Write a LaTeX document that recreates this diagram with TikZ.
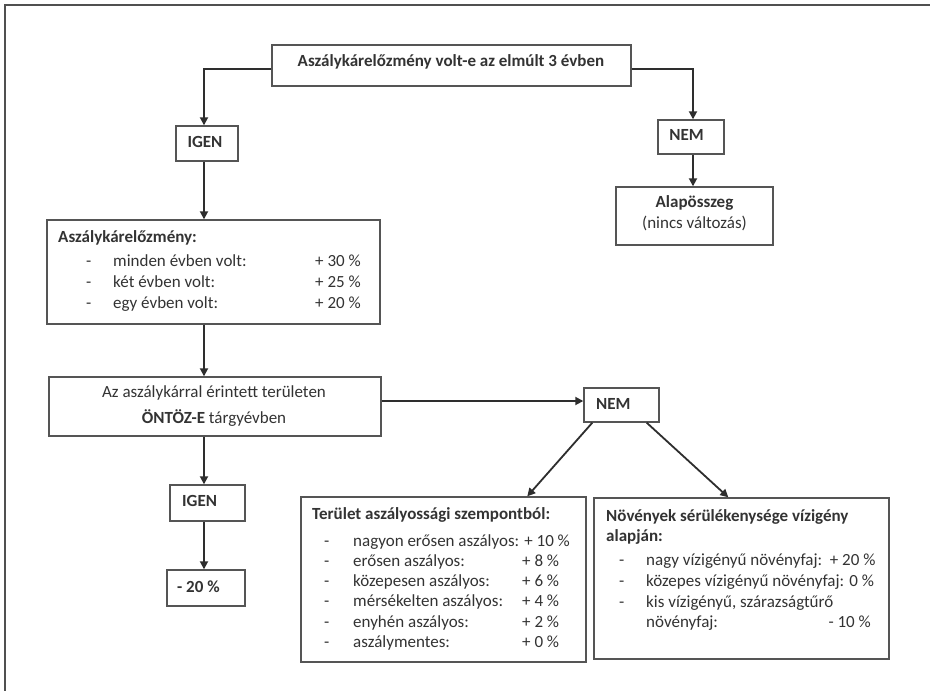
\documentclass[tikz,border=0pt]{standalone}
\usepackage{fontspec}
\setmainfont{Carlito}
\usetikzlibrary{arrows.meta,calc}
\definecolor{boxc}{HTML}{555555}
\definecolor{linec}{HTML}{2E2E2E}
\definecolor{textc}{HTML}{333333}
\definecolor{framec}{HTML}{505050}
\begin{document}
\begin{tikzpicture}[x=1pt,y=-1pt,
  box/.style={draw=boxc, line width=1.4pt, inner sep=0pt},
  arr/.style={draw=linec, line width=1.8pt, -{Triangle[length=8pt,width=8pt]}},
  txt/.style={inner sep=0pt, text=textc, font=\fontsize{17}{20.7}\selectfont, text height=12pt, text depth=4pt},
  btxt/.style={txt, font=\fontsize{17}{20.7}\selectfont\bfseries}]
\useasboundingbox (0,0) rectangle (930,691);
\fill[white] (0,0) rectangle (930,691);
\draw[framec, line width=1.4pt] (5,691) -- (5,5) -- (930,5);

% helper columns for the vertical connectors
\coordinate (trunk) at (204,0);
\coordinate (rtrunk) at (693,0);

% boxes
\node[box, minimum width=359pt, minimum height=41pt] (top) at (451.5,65.5) {};
\node[btxt] (toptxt) at (451,62) {Aszálykárelőzmény volt-e az elmúlt 3 évben};

\node[box, minimum width=62pt, minimum height=35pt] (igen1) at (207,143.5) {};
\node[btxt] (igen1txt) at (205,143) {IGEN};

\node[box, minimum width=66pt, minimum height=34pt] (nem1) at (691,137) {};
\node[btxt] (nem1txt) at (686.5,136) {NEM};

\node[box, minimum width=157pt, minimum height=58pt] (alap) at (694.5,216) {};
\node[btxt] (alaptxt1) at (694.5,203) {Alapösszeg};
\node[txt] (alaptxt2) at (694.5,224) {(nincs változás)};

\node[box, minimum width=333pt, minimum height=104pt] (hist) at (213.5,272) {};
\node[btxt, anchor=west] (histtitle) at (58,238) {Aszálykárelőzmény:};
\node[txt, anchor=west] (hd1) at (86,262) {-};
\node[txt, anchor=west] (ht1) at (113,262) {minden évben volt:};
\node[txt, anchor=west] (hv1) at (315,262) {+ 30 \%};
\node[txt, anchor=west] (hd2) at (86,283) {-};
\node[txt, anchor=west] (ht2) at (113,283) {két évben volt:};
\node[txt, anchor=west] (hv2) at (315,283) {+ 25 \%};
\node[txt, anchor=west] (hd3) at (86,304) {-};
\node[txt, anchor=west] (ht3) at (113,304) {egy évben volt:};
\node[txt, anchor=west] (hv3) at (315,304) {+ 20 \%};

\node[box, minimum width=332pt, minimum height=59pt] (ontoz) at (215,406.5) {};
\node[txt] (ontoztxt1) at (214,393) {Az aszálykárral érintett területen};
\node[txt] (ontoztxt2) at (214,419) {\textbf{ÖNTÖZ-E} tárgyévben};

\node[box, minimum width=75pt, minimum height=36pt] (igen2) at (207.5,503) {};
\node[btxt, anchor=west] (igen2txt) at (182,502) {IGEN};

\node[box, minimum width=78pt, minimum height=36pt] (minus) at (206,588) {};
\node[btxt, anchor=west] (minustxt) at (177,588) {- 20 \%};

\node[box, minimum width=75pt, minimum height=34pt] (nem2) at (621.5,405) {};
\node[btxt, anchor=west] (nem2txt) at (596,405) {NEM};

\node[box, minimum width=285pt, minimum height=165pt] (ter) at (443.5,579.5) {};
\node[btxt, anchor=west] (tertitle) at (312,515) {Terület aszályossági szempontból:};
\node[txt, anchor=west] (td1) at (324,542) {-};
\node[txt, anchor=west] (tt1) at (353,542) {nagyon erősen aszályos: + 10 \%};
\node[txt, anchor=west] (td2) at (324,562) {-};
\node[txt, anchor=west] (tt2) at (353,562) {erősen aszályos:};
\node[txt, anchor=west] (tv2) at (522,562) {+ 8 \%};
\node[txt, anchor=west] (td3) at (324,582) {-};
\node[txt, anchor=west] (tt3) at (353,582) {közepesen aszályos:};
\node[txt, anchor=west] (tv3) at (522,582) {+ 6 \%};
\node[txt, anchor=west] (td4) at (324,602) {-};
\node[txt, anchor=west] (tt4) at (353,602) {mérsékelten aszályos:};
\node[txt, anchor=west] (tv4) at (522,602) {+ 4 \%};
\node[txt, anchor=west] (td5) at (324,623) {-};
\node[txt, anchor=west] (tt5) at (353,623) {enyhén aszályos:};
\node[txt, anchor=west] (tv5) at (522,623) {+ 2 \%};
\node[txt, anchor=west] (td6) at (324,643) {-};
\node[txt, anchor=west] (tt6) at (353,643) {aszálymentes:};
\node[txt, anchor=west] (tv6) at (522,643) {+ 0 \%};

\node[box, minimum width=295pt, minimum height=161pt] (nov) at (741.5,578.5) {};
\node[btxt, anchor=west] (novtitle1) at (606,517) {Növények sérülékenysége vízigény};
\node[btxt, anchor=west] (novtitle2) at (606,537) {alapján:};
\node[txt, anchor=west] (nd1) at (619,561) {-};
\node[txt, anchor=west] (nt1) at (646,561) {nagy vízigényű növényfaj:\ \ + 20 \%};
\node[txt, anchor=west] (nd2) at (619,582) {-};
\node[txt, anchor=west] (nt2) at (646,582) {közepes vízigényű növényfaj: 0 \%};
\node[txt, anchor=west] (nd3) at (619,603) {-};
\node[txt, anchor=west] (nt3) at (646,603) {kis vízigényű, szárazságtűrő};
\node[txt, anchor=west] (nt4) at (646,623) {növényfaj:};
\node[txt, anchor=east] (nv4) at (871,623) {- 10 \%};

% connectors
\draw[arr] ($(top.west)+(0,3.5)$) -| (igen1.north -| trunk);
\draw[arr] ($(top.east)+(0,3.5)$) -| (nem1.north -| rtrunk);
\draw[arr] (nem1.south -| rtrunk) -- (alap.north -| rtrunk);
\draw[arr] (igen1.south -| trunk) -- (hist.north -| trunk);
\draw[arr] (hist.south -| trunk) -- (ontoz.north -| trunk);
\draw[arr] (ontoz.south -| trunk) -- (igen2.north -| trunk);
\draw[arr] (igen2.south -| trunk) -- (minus.north -| trunk);
\draw[arr] ($(ontoz.east)+(0,-5.5)$) -- ($(nem2.west)+(0,-4)$);
\draw[arr] ($(nem2.south west)+(9,0)$) -- ($(ter.north west)+(227,0)$);
\draw[arr] ($(nem2.south east)+(-13,0)$) -- ($(nov.north west)+(135,0)$);
\end{tikzpicture}
\end{document}
